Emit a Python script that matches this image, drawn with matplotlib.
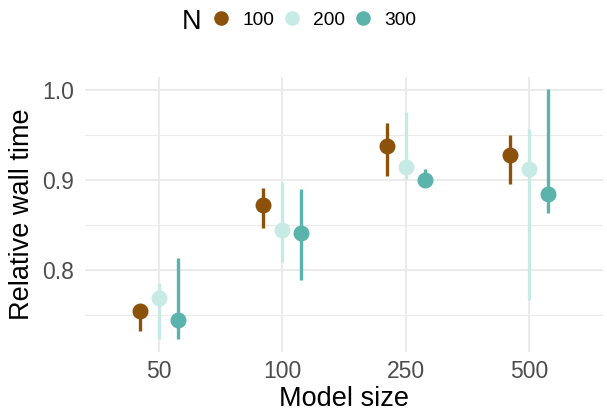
import matplotlib
matplotlib.use("Agg")
import matplotlib.pyplot as plt
from matplotlib.lines import Line2D
import numpy as np

plt.rcParams['font.family'] = ['Liberation Sans', 'DejaVu Sans']

sizes = ["50", "100", "250", "500"]
groups = ["100", "200", "300"]
colors = ["#8C510A", "#C7EAE5", "#5AB4AC"]

mean_100 = [0.754, 0.872, 0.938, 0.928]
lo_100 = [0.732, 0.847, 0.904, 0.896]
hi_100 = [0.757, 0.891, 0.963, 0.950]

mean_200 = [0.769, 0.844, 0.914, 0.912]
lo_200 = [0.723, 0.809, 0.901, 0.767]
hi_200 = [0.786, 0.898, 0.975, 0.957]

mean_300 = [0.744, 0.841, 0.900, 0.884]
lo_300 = [0.723, 0.789, 0.896, 0.863]
hi_300 = [0.813, 0.890, 0.912, 1.001]

means = [mean_100, mean_200, mean_300]
los = [lo_100, lo_200, lo_300]
his = [hi_100, hi_200, hi_300]

fig = plt.figure(figsize=(6.07, 4.13), dpi=100)
ax = fig.add_axes([85/607, 1 - 352/413, (603-85)/607, (352-77)/413])

x = np.arange(len(sizes))
offsets = [-0.155, 0.0, 0.155]
for g, (m, lo, hi, c, off) in enumerate(zip(means, los, his, colors, offsets)):
    xx = x + off
    ax.vlines(xx, lo, hi, color=c, linewidth=2.4, zorder=3 + g)
    ax.plot(xx, m, 'o', color=c, markersize=11.5, markeredgewidth=0, zorder=3 + g)

ax.set_xlim(-0.6, len(sizes) - 1 + 0.6)
ax.set_ylim(0.709, 1.0144)
ax.set_xticks(x)
ax.set_xticklabels(sizes)
ax.set_yticks([0.8, 0.9, 1.0])
ax.set_yticklabels(["0.8", "0.9", "1.0"])
ax.set_yticks([0.75, 0.85, 0.95], minor=True)

ax.grid(True, which='major', color='#EBEBEB', linewidth=1.4, zorder=0)
ax.grid(True, which='minor', axis='y', color='#EBEBEB', linewidth=0.8, zorder=0)
ax.set_axisbelow(True)
for s in ax.spines.values():
    s.set_visible(False)
ax.tick_params(which='both', length=0, labelsize=16.5, labelcolor='#4D4D4D')
ax.tick_params(axis='y', pad=8)
ax.tick_params(axis='x', pad=6)

ax.set_xlabel("Model size", fontsize=19.5, color='black', labelpad=2)
ax.set_ylabel("Relative wall time", fontsize=19.5, color='black', labelpad=5)

fig.text(192/607, 1 - 22/413, "N", fontsize=19.5, ha='center', va='center')
handles = [Line2D([], [], linestyle='none', marker='o', color=c, markersize=10.5,
                  markeredgewidth=0) for c in colors]
fig.legend(handles, groups, ncol=3, loc='center left',
           bbox_to_anchor=(211.5/607, 1 - 20/413), frameon=False,
           fontsize=13.8, handlelength=1.0, handletextpad=0.6, columnspacing=0.44,
           borderpad=0, borderaxespad=0)

fig.savefig("out.png", dpi=100)
